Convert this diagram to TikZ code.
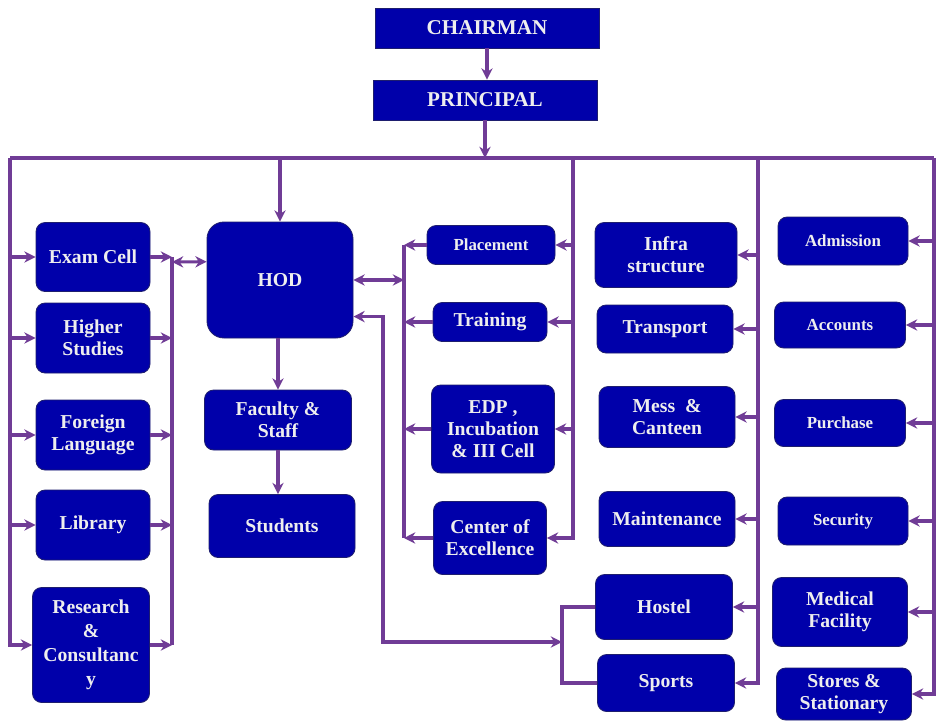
\documentclass[tikz,border=0pt]{standalone}
\usepackage{fontspec}
\setmainfont{Liberation Serif}
\usetikzlibrary{arrows.meta}
\definecolor{boxblue}{RGB}{0,0,170}
\definecolor{boxedge}{RGB}{30,30,110}
\definecolor{linkpurple}{RGB}{112,60,150}
\definecolor{boxtext}{RGB}{238,238,238}

\begin{document}
\begin{tikzpicture}[x=0.025cm, y=-0.025cm,
        >={Stealth[length=8pt,width=8pt]},
        unit/.style 2 args={draw=boxedge, line width=0.6pt, fill=boxblue, rounded corners=6.5pt,
            text=boxtext, font=\bfseries\fontsize{14}{15.5}\selectfont, align=center, inner sep=0pt,
            minimum width=#1*0.025cm, minimum height=#2*0.025cm},
        head/.style={unit={224}{40}, rounded corners=0pt, font=\bfseries\fontsize{15}{17}\selectfont},
        smalltext/.style={font=\bfseries\fontsize{12}{14}\selectfont},
        link/.style={draw=linkpurple, line width=2.2pt}]
        \path[use as bounding box, fill=white] (0,0) rectangle (939,723);

        % top
        \node[head] (chair) at (487,28) {CHAIRMAN};
        \node[head] (prin) at (485,100) {PRINCIPAL};

        % left column
        \node[unit={114}{69}] (exam) at (93,257) {Exam Cell};
        \node[unit={114}{70}] (higher) at (93,338) {Higher\\Studies};
        \node[unit={114}{70}] (foreign) at (93,435) {Foreign\\Language};
        \node[unit={114}{70}] (lib) at (93,525) {Library};
        \node[unit={117}{115}, font=\bfseries\fontsize{14}{17}\selectfont] (res) at (91,645) {Research\\\&\\Consultanc\\y};

        % academics
        \node[unit={146}{116}, rounded corners=12pt] (hod) at (280,280) {HOD};
        \node[unit={147}{60}] (fac) at (278,420) {Faculty \&\\Staff};
        \node[unit={146}{63}] (stu) at (282,526) {Students};

        % cells
        \node[unit={128}{39}, smalltext] (place) at (491,245) {Placement};
        \node[unit={114}{39}] (train) at (490,322) {Training};
        \node[unit={123}{88}] (edp) at (493,429) {EDP ,\\Incubation\\\& III Cell};
        \node[unit={113}{73}] (coe) at (490,538) {Center of\\Excellence};

        % facilities
        \node[unit={142}{65}] (infra) at (666,255) {Infra\\structure};
        \node[unit={136}{48}] (trans) at (665,329) {Transport};
        \node[unit={136}{61}] (mess) at (667,417) {Mess \ \&\\Canteen};
        \node[unit={136}{55}] (maint) at (667,519) {Maintenance};
        \node[unit={137}{65}] (hostel) at (664,607) {Hostel};
        \node[unit={137}{57}] (sports) at (666,683) {Sports};

        % office
        \node[unit={130}{48}, smalltext] (adm) at (843,241) {Admission};
        \node[unit={131}{46}, smalltext] (acc) at (840,325) {Accounts};
        \node[unit={131}{47}, smalltext] (pur) at (840,423) {Purchase};
        \node[unit={130}{48}, smalltext] (sec) at (843,521) {Security};
        \node[unit={135}{69}] (med) at (840,612) {Medical\\Facility};
        \node[unit={135}{52}] (stores) at (844,694) {Stores \&\\Stationary};

        \coordinate (busL) at (10,158);
        \coordinate (busR) at (934,158);
        \coordinate (colA) at (172,0);
        \coordinate (colB) at (404,0);
        \coordinate (colC) at (573,158);
        \coordinate (colD) at (758,158);
        \coordinate (hs) at (562,642);
        \coordinate (hodret) at (383,642);

        \draw[link,->] (chair.south) -- (chair.south |- prin.north);
        \draw[link,->] (prin.south) -- (prin.south |- busL);
        \draw[link] (busL) -- (busR);
        \draw[link,->] (hod.north |- busL) -- (hod.north);

        % left side
        \draw[link,->] (busL) |- (res.west);
        \foreach \b in {exam,higher,foreign,lib}
            \draw[link,->] (busL |- \b.west) -- (\b.west);
        \foreach \b in {exam,higher,foreign,lib,res}
            \draw[link,->] (\b.east) -- (colA |- \b.east);
        \draw[link] (colA |- exam.east) -- (colA |- res.east);
        \draw[link,<->] (colA |- 0,262) -- ([yshift=13pt]hod.west);

        % hod
        \draw[link,->] (fac.north |- hod.south) -- (fac.north);
        \draw[link,->] (fac.south) -- (fac.south |- stu.north);
        \draw[link,<->] (hod.east) -- (colB |- hod.east);
        \draw[link,<->] ([yshift=-26pt]hod.east) -| (hodret) -- (hs);

        % cells
        \foreach \b in {place,train,edp,coe}
            \draw[link,->] (\b.west) -- (colB |- \b.west);
        \draw[link] (colB |- place.west) -- (colB |- coe.west);
        \draw[link,->] (colC) |- (coe.east);
        \foreach \b in {place,train,edp}
            \draw[link,->] (colC |- \b.east) -- (\b.east);

        % facilities
        \draw[link,->] (colD) |- (sports.east);
        \foreach \b in {infra,trans,mess,maint,hostel}
            \draw[link,->] (colD |- \b.east) -- (\b.east);
        \draw[link] (hostel.west) -| (hs) |- (sports.west);

        % office
        \draw[link,->] (busR) |- (stores.east);
        \foreach \b in {adm,acc,pur,sec,med}
            \draw[link,->] (busR |- \b.east) -- (\b.east);
    \end{tikzpicture}
\end{document}
